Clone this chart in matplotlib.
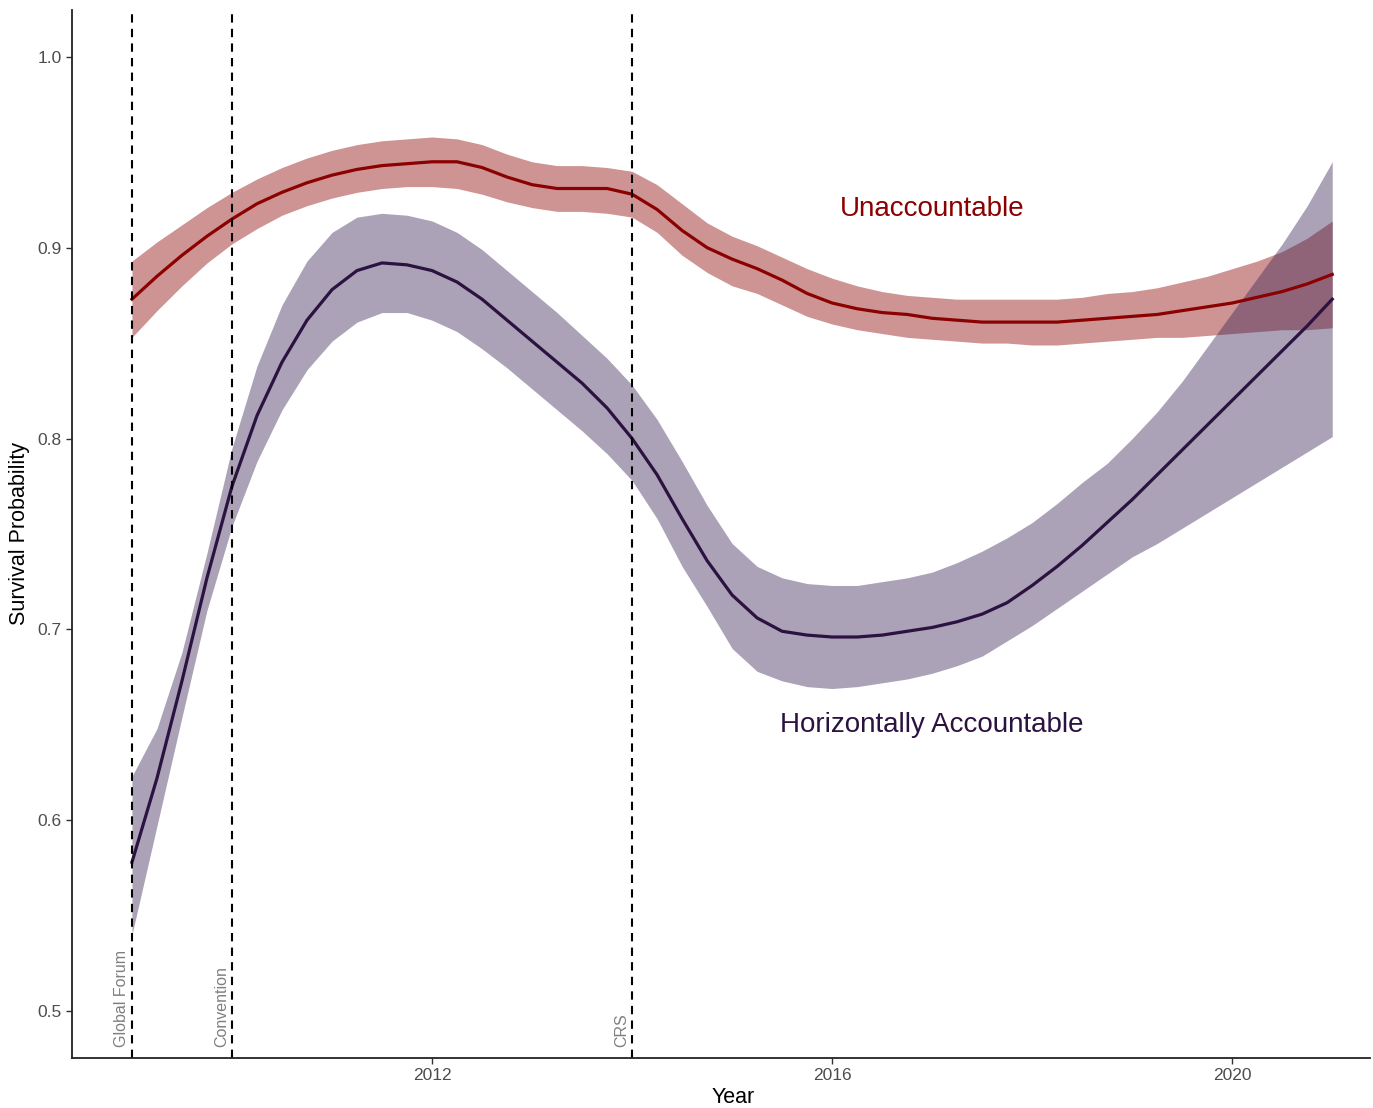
import numpy as np
import matplotlib
matplotlib.use("Agg")
import matplotlib.pyplot as plt

plt.rcParams['font.family'] = ['Liberation Sans', 'DejaVu Sans']

# model years (quarter steps)
years = np.arange(2009.0, 2021.01, 0.25)

# Unaccountable: fitted survival probability and CI
unacc_fit = [0.873, 0.885, 0.896, 0.906, 0.915, 0.923, 0.929, 0.934, 0.938, 0.941,
             0.943, 0.944, 0.945, 0.945, 0.942, 0.937, 0.933, 0.931, 0.931, 0.931,
             0.928, 0.920, 0.909, 0.900, 0.894, 0.889, 0.883, 0.876, 0.871, 0.868,
             0.866, 0.865, 0.863, 0.862, 0.861, 0.861, 0.861, 0.861, 0.862, 0.863,
             0.864, 0.865, 0.867, 0.869, 0.871, 0.874, 0.877, 0.881, 0.886]
unacc_hi = [0.893, 0.903, 0.912, 0.921, 0.929, 0.936, 0.942, 0.947, 0.951, 0.954,
            0.956, 0.957, 0.958, 0.957, 0.954, 0.949, 0.945, 0.943, 0.943, 0.942,
            0.940, 0.933, 0.923, 0.913, 0.906, 0.901, 0.895, 0.889, 0.884, 0.880,
            0.877, 0.875, 0.874, 0.873, 0.873, 0.873, 0.873, 0.873, 0.874, 0.876,
            0.877, 0.879, 0.882, 0.885, 0.889, 0.893, 0.898, 0.905, 0.914]
unacc_lo = [0.853, 0.867, 0.880, 0.892, 0.902, 0.910, 0.917, 0.922, 0.926, 0.929,
            0.931, 0.932, 0.932, 0.931, 0.928, 0.924, 0.921, 0.919, 0.919, 0.918,
            0.916, 0.908, 0.896, 0.887, 0.880, 0.876, 0.870, 0.864, 0.860, 0.857,
            0.855, 0.853, 0.852, 0.851, 0.850, 0.850, 0.849, 0.849, 0.850, 0.851,
            0.852, 0.853, 0.853, 0.854, 0.855, 0.856, 0.857, 0.857, 0.858]

# Horizontally Accountable
horiz_fit = [0.578, 0.622, 0.673, 0.727, 0.775, 0.812, 0.840, 0.862, 0.878, 0.888,
             0.892, 0.891, 0.888, 0.882, 0.873, 0.862, 0.851, 0.840, 0.829, 0.816,
             0.800, 0.781, 0.758, 0.736, 0.718, 0.706, 0.699, 0.697, 0.696, 0.696,
             0.697, 0.699, 0.701, 0.704, 0.708, 0.714, 0.723, 0.733, 0.744, 0.756,
             0.768, 0.781, 0.794, 0.807, 0.820, 0.833, 0.846, 0.859, 0.873]
horiz_hi = [0.623, 0.648, 0.688, 0.740, 0.795, 0.838, 0.870, 0.893, 0.908, 0.916,
            0.918, 0.917, 0.914, 0.908, 0.899, 0.888, 0.877, 0.866, 0.854, 0.842,
            0.828, 0.810, 0.788, 0.765, 0.745, 0.733, 0.727, 0.724, 0.723, 0.723,
            0.725, 0.727, 0.730, 0.735, 0.741, 0.748, 0.756, 0.766, 0.777, 0.787,
            0.800, 0.814, 0.830, 0.848, 0.866, 0.884, 0.902, 0.922, 0.945]
horiz_lo = [0.540, 0.597, 0.654, 0.710, 0.754, 0.788, 0.815, 0.836, 0.851, 0.861,
            0.866, 0.866, 0.862, 0.856, 0.847, 0.837, 0.826, 0.815, 0.804, 0.792,
            0.778, 0.758, 0.733, 0.712, 0.690, 0.678, 0.673, 0.670, 0.669, 0.670,
            0.672, 0.674, 0.677, 0.681, 0.686, 0.694, 0.702, 0.711, 0.720, 0.729,
            0.738, 0.745, 0.753, 0.761, 0.769, 0.777, 0.785, 0.793, 0.801]

# policy events
event_years = [2009, 2010, 2014]
event_labels = ["Global Forum", "Convention", "CRS"]

red = "#8B0000"
purple = "#2B1240"

fig = plt.figure(figsize=(13.73, 11.08), dpi=100)
ax = fig.add_axes([0.0524, 0.0451, 0.9456, 0.946])

ax.fill_between(years, unacc_lo, unacc_hi, color=red, alpha=0.42, lw=0)
ax.fill_between(years, horiz_lo, horiz_hi, color="#3A2355", alpha=0.42, lw=0)
ax.plot(years, unacc_fit, color=red, lw=2.3)
ax.plot(years, horiz_fit, color=purple, lw=2.3)

for yr, lab in zip(event_years, event_labels):
    ax.axvline(yr, color="black", lw=1.5, ls=(0, (4, 3)))
    ax.text(yr - 0.03, 0.481, lab, rotation=90, ha="right", va="bottom",
            fontsize=11.5, color="#7f7f7f")

ax.text(2017.0, 0.920, "Unaccountable", color=red, fontsize=20,
        ha="center", va="center")
ax.text(2017.0, 0.650, "Horizontally Accountable", color=purple, fontsize=20,
        ha="center", va="center")

ax.set_xlim(2008.4, 2021.38)
ax.set_ylim(0.4754, 1.0246)
ax.set_xticks([2012, 2016, 2020])
ax.set_yticks([0.5, 0.6, 0.7, 0.8, 0.9, 1.0])
ax.set_yticklabels(["0.5", "0.6", "0.7", "0.8", "0.9", "1.0"])
ax.tick_params(labelsize=12.5, labelcolor="#4d4d4d", length=4, width=1,
               color="#333333")
ax.set_xlabel("Year", fontsize=15.5)
ax.set_ylabel("Survival Probability", fontsize=15.5)
ax.xaxis.set_label_coords(0.509, -0.028)
ax.yaxis.set_label_coords(-0.032, 0.5)

for s in ["top", "right"]:
    ax.spines[s].set_visible(False)
for s in ["left", "bottom"]:
    ax.spines[s].set_linewidth(1.3)
    ax.spines[s].set_color("#222222")

fig.savefig("out.png", dpi=100)
